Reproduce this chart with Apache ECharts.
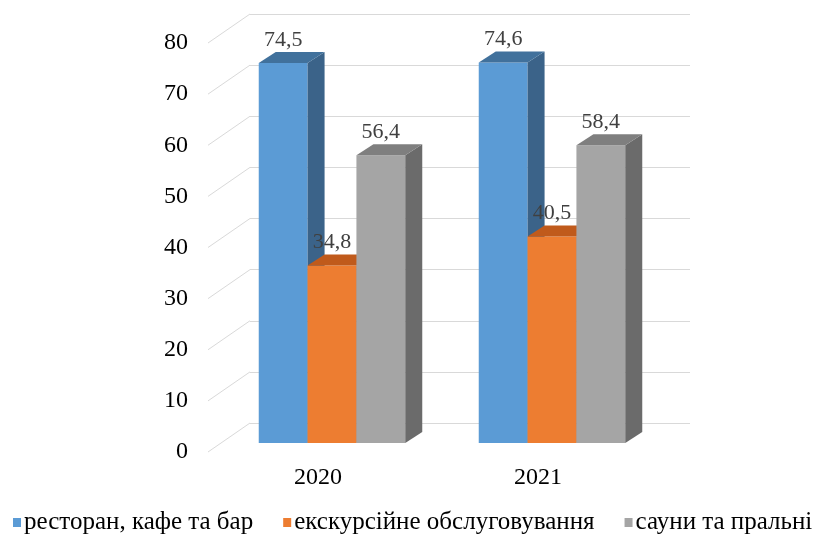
<!DOCTYPE html>
<html>
<head>
<meta charset="utf-8">
<script src="https://cdn.jsdelivr.net/npm/echarts@6/dist/echarts.min.js"></script>
<style>
  html, body { margin: 0; padding: 0; background: #fff; }
  #chart { width: 825px; height: 535px; }
</style>
</head>
<body>
<div id="chart"></div>
<script>
  // data
  var years = ['2020', '2021'];
  var seriesNames = ['ресторан, кафе та бар', 'екскурсійне обслуговування', 'сауни та пральні'];
  var restaurants = [74.5, 74.6];
  var excursions = [34.8, 40.5];
  var saunas = [56.4, 58.4];
  var yTicks = [0, 10, 20, 30, 40, 50, 60, 70, 80];

  var font = "'Liberation Serif', 'Times New Roman', serif";
  var colors = [
    { front: '#5b9bd5', top: '#41719c', side: '#3b6389' },
    { front: '#ed7d31', top: '#c05a1b', side: '#a9501a' },
    { front: '#a5a5a5', top: '#7f7f7f', side: '#6b6b6b' }
  ];
  var depthX = 17, depthY = -11;
  var barShare = 0.222; // one bar width / category band

  function fmt(v) {
    return String(v).replace('.', ',');
  }

  function makeBar(k) {
    return function (params, api) {
      var cat = api.value(0), val = api.value(1);
      var base = api.coord([cat, 0]);
      var top = api.coord([cat, val]);
      var band = api.size([1, 0])[0];
      var w = band * barShare;
      var x0 = base[0] - 1.5 * w + k * w;
      var x1 = x0 + w;
      var c = colors[k];
      return {
        type: 'group',
        children: [
          { type: 'rect', shape: { x: x0, y: top[1], width: w, height: base[1] - top[1] },
            style: { fill: c.front } },
          { type: 'polygon', shape: { points: [[x1, base[1]], [x1, top[1]], [x1 + depthX, top[1] + depthY], [x1 + depthX, base[1] + depthY]] },
            style: { fill: c.side } },
          { type: 'polygon', shape: { points: [[x0, top[1]], [x1, top[1]], [x1 + depthX, top[1] + depthY], [x0 + depthX, top[1] + depthY]] },
            style: { fill: c.top } },
          { type: 'text', x: x0 + w / 2, y: top[1] + depthY - 1,
            style: { text: fmt(val), fill: '#404040', font: '22px ' + font, align: 'center', verticalAlign: 'bottom' } }
        ]
      };
    };
  }

  function diagonal(params, api) {
    var p = api.coord([0, api.value(0)]);
    return {
      type: 'line',
      shape: { x1: p[0], y1: p[1], x2: p[0] - 42, y2: p[1] + 29 },
      style: { stroke: '#d9d9d9', lineWidth: 1 }
    };
  }

  var values = [restaurants, excursions, saunas];
  var barSeries = seriesNames.map(function (name, k) {
    return {
      name: name,
      type: 'custom',
      xAxisIndex: 2,
      yAxisIndex: 2,
      renderItem: makeBar(k),
      itemStyle: { color: colors[k].front },
      encode: { x: 0, y: 1 },
      data: years.map(function (y, i) { return [i, values[k][i]]; }),
      z: 5
    };
  });

  var chart = echarts.init(document.getElementById('chart'));
  chart.setOption({
    animation: false,
    backgroundColor: '#fff',
    grid: [
      { left: 250, right: 135, top: 14, bottom: 112 },   // back wall
      { left: 196, width: 10, top: 43, bottom: 83 },     // front tick labels
      { left: 222, right: 163, top: 35, bottom: 92 }     // bars
    ],
    xAxis: [
      { gridIndex: 0, type: 'value', min: 0, max: 1, show: false },
      { gridIndex: 1, type: 'value', min: 0, max: 1, show: false },
      { gridIndex: 2, type: 'category', data: years,
        axisLine: { show: false }, axisTick: { show: false },
        axisLabel: { color: '#000', fontFamily: font, fontSize: 24, margin: 23, padding: [0, 28, 0, 0] } }
    ],
    yAxis: [
      { gridIndex: 0, type: 'value', min: 0, max: 80, interval: 10,
        axisLine: { show: false }, axisTick: { show: false }, axisLabel: { show: false },
        splitLine: { lineStyle: { color: '#d9d9d9', width: 1 } } },
      { gridIndex: 1, type: 'value', min: 0, max: 80, interval: 10,
        axisLine: { show: false }, axisTick: { show: false }, splitLine: { show: false },
        axisLabel: { color: '#000', fontFamily: font, fontSize: 24, margin: 8 } },
      { gridIndex: 2, type: 'value', min: 0, max: 80, interval: 10, show: false }
    ],
    legend: {
      data: seriesNames,
      left: 8,
      top: 505,
      icon: 'rect',
      itemWidth: 8,
      itemHeight: 9,
      itemGap: 30,
      textStyle: { color: '#000', fontFamily: font, fontSize: 25, padding: [0, 0, 0, -2] }
    },
    series: [
      {
        type: 'custom',
        xAxisIndex: 0,
        yAxisIndex: 0,
        renderItem: diagonal,
        encode: { y: 0 },
        data: yTicks.map(function (v) { return [v]; }),
        silent: true,
        z: 1
      }
    ].concat(barSeries)
  });
</script>
</body>
</html>
